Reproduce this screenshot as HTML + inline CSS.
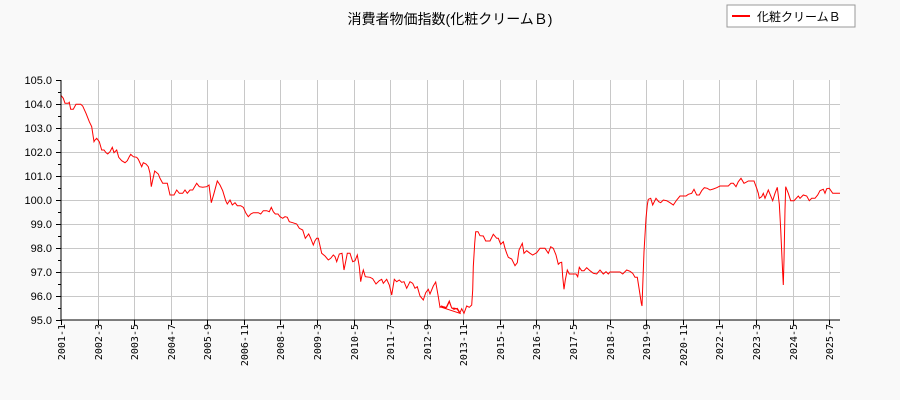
<!DOCTYPE html>
<html><head><meta charset="utf-8"><style>
body{margin:0;background:#f9f9f9;}
svg{display:block;font-family:"Liberation Sans","Noto Sans CJK JP",sans-serif;}
</style></head><body>
<svg id="s" width="900" height="400" xmlns="http://www.w3.org/2000/svg">
<rect width="900" height="400" fill="#f9f9f9"/>
<rect x="61" y="80" width="779" height="240" fill="#fff"/>
<g id="grid" stroke="#c8c8c8" stroke-width="1"></g>
<g id="ticks" stroke="#000" stroke-width="1"></g>
<g id="ylab" font-size="11" text-anchor="end" fill="#000"></g>
<g id="xlab" font-size="10" fill="#000" font-family="'DejaVu Sans Mono','Liberation Mono',monospace"></g>
<polyline id="line" fill="none" stroke="#ff0000" stroke-width="1"/>
<line x1="61" y1="80" x2="61" y2="320" stroke="#000"/>
<line x1="61" y1="320" x2="840" y2="320" stroke="#000"/>
<text x="450" y="24" font-size="14" text-anchor="middle">消費者物価指数(化粧クリームＢ)</text>
<rect x="727" y="5" width="128" height="22" fill="#fff" stroke="#999"/>
<line x1="732" y1="16" x2="750" y2="16" stroke="#ff0000" stroke-width="2"/>
<text x="757" y="21" font-size="12">化粧クリームＢ</text>
</svg>
<script>
var NS="http://www.w3.org/2000/svg";
function el(p,t,a,txt){var e=document.createElementNS(NS,t);for(var k in a)e.setAttribute(k,a[k]);if(txt)e.textContent=txt;document.getElementById(p).appendChild(e);}
for(var i=0;i<=10;i++){var y=80+i*24;if(i>0&&i<10)el("grid","line",{x1:61,x2:840,y1:y+.5,y2:y+.5});
el("ticks","line",{x1:56,x2:61,y1:y+.5,y2:y+.5});if(i<10)el("ticks","line",{x1:58,x2:61,y1:y+12.5,y2:y+12.5});
el("ylab","text",{x:52,y:y+4},(105-i).toFixed(1));}
var labs=["2001-1","2002-3","2003-5","2004-7","2005-9","2006-11","2008-1","2009-3","2010-5","2011-7","2012-9","2013-11","2015-1","2016-3","2017-5","2018-7","2019-9","2020-11","2022-1","2023-3","2024-5","2025-7"];
for(var j=0;j<labs.length;j++){var x=Math.round(61+j*14*2.6125)+.5;if(j>0)el("grid","line",{x1:x,x2:x,y1:80,y2:320});
el("ticks","line",{x1:x,x2:x,y1:320,y2:325});
el("xlab","text",{transform:"translate("+(x+3.5)+",324) rotate(-90)","text-anchor":"end"},labs[j]);}
var a=[62,75,70,85,75,100,85,100,88,97,92,118,100,118,108,103,122,103,128,108,138,130,148,155,155,170,162,215,165,210,170,205,178,215,185,240,192,240,198,248,203,252,210,245,217,232,222,248,230,240,236,262,245,272,255,278,262,272,268,260,272,253,280,260,290,262,295,268,305,290,310,278,318,282,325,290,330,310,334,350,338,330,344,303,355,312,360,325,368,340,382,340,390,375,402,375,410,360,418,370,428,370,435,360,442,370,450,360,458,360,470,340,478,350,488,352,500,350,507,345,514,398,522,370,532,333,540,345,548,362,557,392,562,402,570,390,577,405,585,398,592,407,602,407,610,412,618,430,625,440,632,432,640,428,655,428,662,432,670,422,680,422,688,425,694,412,700,425,706,432,714,432,720,440,728,445,735,440,742,442,748,455,758,458,770,462,778,475,788,480,796,505,806,492,812,505,820,525,825,512,830,505,835,505,845,550,855,558,865,570,872,565,880,555,885,560,890,575,898,552,906,550,912,600,918,570,922,550,930,550,938,575,945,572,952,555,958,590,962,635,966,615,970,600,976,620,990,622,998,626,1008,642,1018,632,1025,628,1030,640,1040,628,1048,645,1055,675,1063,628,1070,635,1078,630,1085,637,1092,635,1100,655,1110,635,1118,640,1125,655,1132,650,1140,678,1150,690,1157,668,1165,658,1170,672,1180,648,1187,636,1195,680,1200,712,1205,708,1212,712,1220,712,1228,695,1235,714,1245,715,1252,718,1260,730];
var b=[5,712,12,710,18,714,28,693,35,714,42,718,52,715,60,728,65,716,72,730,80,708,88,712,95,705,98,660,100,590,104,520,107,485,114,485,120,497,130,498,137,513,150,513,160,493,170,505,175,505,182,523,190,515,195,535,200,550,205,562,215,567,225,587,232,578,237,540,247,520,252,550,260,542,270,550,278,555,290,548,300,535,315,535,325,550,332,530,340,535,348,555,355,583,360,578,365,577,368,620,372,658,376,630,382,600,388,612,408,612,413,620,418,592,425,602,432,602,440,593,450,602,460,610,470,612,480,600,490,612,498,605,505,612,510,606,540,606,548,612,560,600,570,604,578,610,585,622,592,622,598,660,604,700,606,708,608,650,612,545,618,445,622,405,625,388,632,385,638,405,648,385,656,395,662,398,670,390,680,392,690,398,700,405,710,390,720,378,738,378,745,373,755,370,762,358,770,375,778,375,785,362,793,353,802,355,810,360,820,357,830,353,840,348,865,348,873,340,880,340,888,350,895,335,903,325,912,340,918,337,925,333,942,333,950,355,955,370,958,385,965,380,970,370,975,385,985,360,998,392,1005,370,1012,352,1018,402,1022,478,1025,545,1028,610,1030,645,1032,570,1035,420,1037,350,1045,370,1052,392,1062,392,1075,378,1080,385,1090,375,1100,378,1108,392,1115,385,1125,385,1133,375,1140,362,1150,358,1155,370,1160,356,1168,355,1178,370,1200,370];
var p=[];for(var k=0;k<a.length;k+=2)p.push((40+a[k]/3).toFixed(1)+","+(70+a[k+1]/3).toFixed(1));
for(k=0;k<b.length;k+=2)p.push((440+b[k]/3).toFixed(1)+","+(70+b[k+1]/3).toFixed(1));
document.getElementById("line").setAttribute("points",p.join(" "));
</script>
</body></html>
